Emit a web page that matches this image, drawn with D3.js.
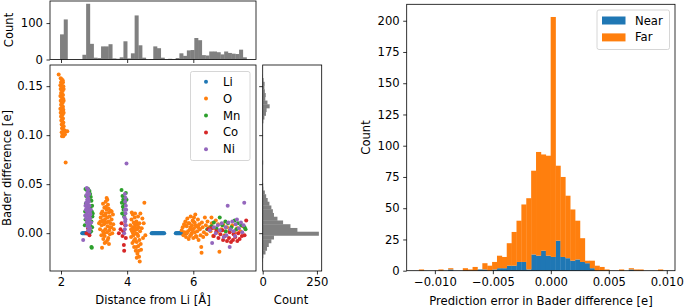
<!DOCTYPE html>
<html><head><meta charset="utf-8">
<script src="https://cdn.jsdelivr.net/npm/d3@7"></script>
<style>body{margin:0;background:#fff}svg{display:block}text{font-family:"DejaVu Sans",sans-serif;fill:#000}</style>
</head><body><svg id="c" width="685" height="307"></svg>
<script>
// ---------------- DATA ----------------
const elements = ["Li", "O", "Mn", "Co", "Ni"];
const elementColors = ["#1f77b4", "#ff7f0e", "#2ca02c", "#d62728", "#9467bd"];

// [distance from Li (Å), Bader difference (e)]
const LiPoints = [[2.64,0],[2.66,0],[2.68,0],[2.70,0],[2.72,0],[2.74,0],[2.76,0],[2.78,0],[2.80,0],[2.82,0],[2.84,0],[2.86,0],
[4.74,0],[4.76,0],[4.78,0],[4.80,0],[4.82,0],[4.84,0],[4.86,0],[4.88,0],[4.90,0],[4.92,0],[4.94,0],[4.96,0],[4.98,0],[5.00,0],[5.02,0],[5.04,0],[5.06,0],[5.08,0],[5.10,0],[5.12,0],
[5.47,0],[5.49,0],[5.51,0],[5.53,0],[5.55,0],[5.57,0],[5.59,0],[5.61,0],[5.63,0],[5.65,0],[5.67,0],[5.70,0],[5.73,0],[5.76,0],[5.79,0]];

const OPoints = [[1.93,0.162],[1.99,0.158],[2.02,0.157],[2.05,0.156],[2.00,0.154],[2.03,0.153],[2.06,0.154],[1.98,0.151],[2.01,0.150],[2.04,0.149],[2.07,0.150],[1.99,0.147],[2.02,0.146],[2.05,0.145],[2.08,0.147],[2.00,0.143],[2.03,0.142],[2.06,0.141],[1.98,0.140],[2.01,0.139],[2.04,0.138],[2.07,0.137],[1.99,0.135],[2.02,0.134],[2.05,0.133],[2.08,0.135],[2.00,0.131],[2.03,0.130],[2.06,0.129],[1.98,0.127],[2.01,0.126],[2.04,0.125],[2.07,0.126],[1.99,0.123],[2.02,0.122],[2.05,0.121],[2.08,0.123],[2.00,0.119],[2.03,0.118],[2.06,0.117],[2.01,0.115],[2.04,0.114],[2.07,0.113],[2.02,0.111],[2.05,0.110],[2.08,0.109],[2.03,0.107],[2.06,0.106],[2.10,0.105],[2.14,0.104],[2.19,0.104],[2.02,0.103],[2.05,0.101],[2.08,0.102],[2.03,0.099],[2.07,0.099],[2.12,0.101],[2.14,0.072],
[3.15,0.010],[3.18,0.004],[3.20,0.016],[3.22,-0.002],[3.23,0.008],[3.25,0.022],[3.26,0.013],[3.27,0.002],[3.28,-0.006],[3.29,0.018],[3.30,0.009],[3.31,0.026],[3.32,-0.003],[3.33,0.014],[3.34,0.004],[3.35,0.020],[3.36,-0.009],[3.37,0.011],[3.38,0.024],[3.39,0.001],[3.40,0.016],[3.41,0.007],[3.42,0.029],[3.43,-0.005],[3.44,0.012],[3.45,0.021],[3.46,0.003],[3.47,0.017],[3.48,-0.001],[3.49,0.010],[3.50,0.023],[3.52,0.006],[3.53,0.014],[3.55,0.000],[3.57,0.019],[3.58,0.009],[3.60,0.004],[3.27,0.030],[3.35,0.032],[3.38,0.036],[3.40,0.034],[3.24,-0.015],[3.32,-0.010],[3.45,-0.011],[3.22,0.020],[3.30,0.000],[3.36,0.027],[3.44,0.025],[3.48,0.006],[3.19,0.012],[3.41,-0.007],[3.53,0.022],[3.28,0.012],[3.34,0.018],
[4.10,0.008],[4.12,-0.004],[4.13,0.014],[4.15,0.002],[4.16,-0.010],[4.17,0.019],[4.18,0.006],[4.19,-0.002],[4.20,0.011],[4.21,-0.014],[4.22,0.003],[4.23,0.016],[4.24,-0.006],[4.25,0.008],[4.26,-0.018],[4.27,0.000],[4.28,0.012],[4.29,-0.009],[4.30,0.004],[4.31,-0.021],[4.32,0.009],[4.33,-0.003],[4.34,-0.013],[4.35,0.006],[4.36,-0.024],[4.37,-0.007],[4.38,-0.029],[4.39,0.002],[4.40,0.020],[4.41,-0.011],[4.42,-0.017],[4.44,0.005],[4.46,0.015],[4.48,-0.005],[4.50,0.010],[4.52,0.031],[4.55,-0.002],[4.14,0.021],[4.20,-0.008],[4.24,0.020],[4.28,-0.014],[4.33,0.017],[4.35,-0.018],[4.18,0.000],[4.26,0.005],[4.31,-0.001],[4.22,0.010],[4.37,0.010],[4.12,0.004],[4.29,-0.025],
[5.65,0.003],[5.68,0.006],[5.70,-0.002],[5.72,0.009],[5.74,0.001],[5.76,0.012],[5.78,-0.004],[5.80,0.007],[5.82,0.015],[5.84,0.002],[5.86,-0.006],[5.88,0.010],[5.90,0.004],[5.92,0.017],[5.94,-0.001],[5.96,0.008],[5.98,0.013],[6.00,-0.005],[6.02,0.005],[6.04,0.011],[6.06,0.019],[6.08,-0.003],[6.10,0.007],[6.12,0.002],[6.14,0.014],[6.16,-0.007],[6.18,0.009],[6.20,0.004],[6.22,-0.002],[6.24,-0.014],[6.25,-0.020],[6.26,0.011],[6.28,0.006],[6.30,-0.004],[6.32,0.001],[6.35,0.016],[6.38,0.008],[6.40,-0.001],[6.43,0.012],[5.85,0.010],[5.95,0.000],[6.05,0.001],[5.90,-0.003],[6.00,0.012],[6.10,-0.004],[5.80,0.000],[6.15,0.006],[5.75,0.008],[6.02,0.016],[5.92,0.006],[6.07,0.008],[5.97,0.003],
[6.48,0.006],[6.52,0.002],[6.56,0.010],[6.60,-0.003],[6.64,0.005],[6.68,0.013],[6.72,0.001],[6.79,-0.019],[6.85,0.004],[6.90,0.009],[6.95,-0.002],[7.02,0.006],[7.10,0.003],[7.18,0.008],[7.25,0.001],[7.33,0.005],[7.42,0.002],[7.50,0.007],[6.55,0.016],[6.75,0.009]];

const MnPoints = [[2.74,0.045],[2.78,0.044],[2.82,0.045],[2.86,0.043],[2.88,0.040],[2.90,0.037],[2.92,0.033],[2.94,0.028],[2.93,0.022],[2.95,0.017],[2.92,0.012],[2.94,0.006],[2.91,0.002],[2.76,0.038],[2.75,0.030],[2.73,0.022],[2.74,0.014],[2.72,0.008],[2.89,0.026],[2.96,0.020],[2.92,-0.014],[2.93,-0.015],[2.90,0.018],[2.88,0.008],
[3.83,0.044],[3.86,0.038],[3.88,0.034],[3.84,0.031],[3.90,0.032],[3.87,0.027],[3.92,0.030],[3.89,0.024],[3.85,0.020],[3.94,0.036],[3.91,0.017],[3.96,0.041],[3.98,0.034],
[6.42,0.004],[6.55,0.007],[6.62,0.011],[6.70,0.005],[6.80,0.016],[6.88,0.008],[6.97,0.012],[7.05,0.010],[7.15,0.006],[7.25,0.013],[7.35,0.010],[7.45,0.008],[7.55,0.006],[7.58,0.004],[6.98,0.002],[7.30,0.004]];

const CoPoints = [[2.77,0.000],[2.82,0.005],[2.86,-0.002],[2.80,0.012],
[3.75,0.000],[3.80,0.004],[3.86,-0.003],[3.90,-0.012],[3.91,-0.018],[3.88,0.002],[3.94,0.008],[3.96,-0.005],[3.83,0.010],
[6.45,0.004],[6.62,-0.003],[6.70,0.002],[6.76,-0.005],[6.82,-0.001],[6.90,-0.007],[6.96,-0.003],[7.02,-0.008],[7.08,-0.005],[7.14,-0.009],[7.20,-0.007],[7.27,-0.004],[7.33,-0.008],[7.40,-0.006],[7.47,-0.003],[7.55,-0.002],[7.60,0.013],[6.88,0.003],[7.10,0.001],[7.36,0.000],[6.55,0.005],[7.22,-0.001]];

const NiPoints = [[2.78,0.046],[2.80,0.042],[2.77,0.039],[2.81,0.037],[2.79,0.034],[2.83,0.035],[2.76,0.031],[2.80,0.030],[2.84,0.032],[2.78,0.027],[2.82,0.026],[2.86,0.028],[2.75,0.024],[2.79,0.022],[2.83,0.023],[2.87,0.021],[2.77,0.019],[2.81,0.018],[2.85,0.017],[2.89,0.019],[2.76,0.015],[2.80,0.014],[2.84,0.013],[2.88,0.015],[2.78,0.011],[2.82,0.010],[2.86,0.009],[2.80,0.007],[2.84,0.006],[2.88,0.005],[2.82,0.003],[2.86,0.002],[2.74,0.028],[2.73,0.018],[2.90,0.024],[2.91,0.011],[2.67,-0.007],[2.85,0.040],[2.83,0.044],
[3.93,0.040],[3.95,0.036],[3.94,0.032],[3.96,0.028],[3.93,0.024],[3.95,0.020],[3.92,0.016],[3.94,0.012],[3.96,0.008],[3.93,0.004],[3.95,0.014],[3.97,0.024],[3.98,0.071],[3.91,0.000],
[6.50,0.003],[6.57,-0.010],[6.62,0.006],[6.68,0.000],[6.74,0.008],[6.80,0.003],[6.86,0.010],[6.92,-0.004],[6.98,0.006],[7.04,0.028],[7.06,0.011],[7.10,-0.014],[7.12,0.004],[7.18,0.012],[7.22,0.002],[7.28,0.009],[7.32,0.014],[7.38,0.005],[7.44,0.011],[7.48,0.001],[7.54,0.031],[7.52,0.008],[7.00,-0.002],[7.26,-0.003]];

// distance histogram (top marginal)
const distBinStart = 1.97, distBinWidth = 0.1128;
const distCounts = [69,110,0,0,0,0,13,153,43,5,4,36,36,42,3,2,6,50,3,17,121,39,5,0,1,36,31,5,1,2,1,4,17,10,25,26,59,53,12,11,22,22,20,14,22,18,16,15,27,6];

// Bader difference histogram (right marginal)
const baderBinStart = -0.0291, baderBinWidth = 0.003824;
const baderCounts = [1,3,13,20,28,40,52,259,160,128,94,68,52,47,40,31,23,16,10,3,2,0,0,0,0,0,2,0,0,0,0,0,0,0,0,0,0,3,8,15,18,32,22,12,14,10,8,9,4,1];

// prediction error histogram (stacked)
const errBinStart = -0.01138, errBinWidth = 0.000421;
const nearCounts = [0,0,0,0,0,0,1,0,0,0,0,0,1,1,0,1,2,2,4,4,7,7,1,13,12,16,12,11,24,11,10,8,9,7,6,2,0,0,0,0,0,0,0,1,0,0,0,0,0,0];
const farCounts  = [1,0,0,0,1,0,1,0,0,2,1,3,0,5,4,6,10,9,18,27,33,46,57,67,83,77,80,192,60,64,50,41,31,19,2,6,4,3,1,0,0,1,0,1,1,1,0,0,0,1];
const errSeries = ["Near", "Far"];
const errColors = ["#1f77b4", "#ff7f0e"];

const distTicks = [2, 4, 6];
const baderTicks = [0.00, 0.05, 0.10, 0.15];
const topCountTicks = [0, 100];
const rightCountTicks = [0, 250];
const errTicks = [-0.010, -0.005, 0.000, 0.005, 0.010];
const errCountTicks = [0, 25, 50, 75, 100, 125, 150, 175, 200];

// ---------------- DRAW ----------------
const svg = d3.select("#c");
const FS = 11.6;
const gray = "#808080";
const R = 2.0;

const xD = d3.scaleLinear().domain([1.667, 7.896]).range([50, 256]);
const yB = d3.scaleLinear().domain([-0.0386, 0.1716]).range([271, 65]);
const yTop = d3.scaleLinear().domain([0, 160.6]).range([59.5, 1]);
const xRight = d3.scaleLinear().domain([0, 272]).range([262.7, 321.7]);
const xE = d3.scaleLinear().domain([-0.01243, 0.01071]).range([406.7, 675]);
const yE = d3.scaleLinear().domain([0, 213.15]).range([270.7, 4.3]);

function styleAxis(g) {
  g.select(".domain").remove();
  g.selectAll(".tick line").attr("stroke", "#000").attr("stroke-width", 0.8);
  g.selectAll(".tick text").attr("font-size", FS).attr("font-family", "DejaVu Sans").attr("fill", "#000");
}
function frame(x0, x1, y0, y1) {
  svg.append("rect").attr("x", x0).attr("y", y0).attr("width", x1 - x0).attr("height", y1 - y0)
    .attr("fill", "none").attr("stroke", "#000").attr("stroke-width", 0.8);
}

// Top histogram
svg.append("g").selectAll("rect").data(distCounts).join("rect")
  .attr("x", (c, i) => xD(distBinStart + i * distBinWidth))
  .attr("width", (c, i) => xD(distBinStart + (i + 1) * distBinWidth) - xD(distBinStart + i * distBinWidth) + 0.3)
  .attr("y", c => yTop(c)).attr("height", c => yTop(0) - yTop(c)).attr("fill", gray);
frame(50, 256, 1, 59.5);
svg.append("g").attr("transform", "translate(0,59.5)")
  .call(d3.axisBottom(xD).tickValues(distTicks).tickSize(3.5).tickFormat(""))
  .call(styleAxis);
svg.append("g").attr("transform", "translate(50,0)")
  .call(d3.axisLeft(yTop).tickValues(topCountTicks).tickSize(3.5).tickPadding(3.5).tickFormat(d3.format("d")))
  .call(styleAxis);
svg.append("text").attr("transform", "translate(9,30) rotate(-90)").attr("text-anchor", "middle")
  .attr("dominant-baseline", "central").attr("font-size", FS).text("Count");

// Main scatter
const allPts = [LiPoints, OPoints, MnPoints, CoPoints, NiPoints];
allPts.forEach((pts, k) => {
  svg.append("g").selectAll("circle").data(pts).join("circle")
    .attr("cx", p => xD(p[0])).attr("cy", p => yB(p[1])).attr("r", R)
    .attr("fill", elementColors[k]);
});
frame(50, 256, 65, 271);
svg.append("g").attr("transform", "translate(0,271)")
  .call(d3.axisBottom(xD).tickValues(distTicks).tickSize(3.5).tickPadding(3.5).tickFormat(d3.format("d")))
  .call(styleAxis);
svg.append("g").attr("transform", "translate(50,0)")
  .call(d3.axisLeft(yB).tickValues(baderTicks).tickSize(3.5).tickPadding(3.5).tickFormat(d3.format(".2f")))
  .call(styleAxis);
svg.append("text").attr("transform", "translate(7,168) rotate(-90)").attr("text-anchor", "middle")
  .attr("dominant-baseline", "central").attr("font-size", FS).text("Bader difference [e]");
svg.append("text").attr("x", 153).attr("y", 304).attr("text-anchor", "middle")
  .attr("font-size", FS).text("Distance from Li [Å]");

// legend (scatter)
const lg = svg.append("g");
lg.append("rect").attr("x", 190.5).attr("y", 71.5).attr("width", 59.5).attr("height", 89).attr("rx", 2)
  .attr("fill", "#fff").attr("fill-opacity", 0.8).attr("stroke", "#cccccc").attr("stroke-width", 0.8);
elements.forEach((e, i) => {
  const cy = 81.7 + i * 16.9;
  lg.append("circle").attr("cx", 206).attr("cy", cy).attr("r", R).attr("fill", elementColors[i]);
  lg.append("text").attr("x", 223).attr("y", cy).attr("dominant-baseline", "central")
    .attr("font-size", FS).text(e);
});

// Right marginal histogram
svg.append("g").selectAll("rect").data(baderCounts).join("rect")
  .attr("y", (c, i) => yB(baderBinStart + (i + 1) * baderBinWidth))
  .attr("height", (c, i) => yB(baderBinStart + i * baderBinWidth) - yB(baderBinStart + (i + 1) * baderBinWidth) + 0.3)
  .attr("x", xRight(0)).attr("width", c => xRight(c) - xRight(0)).attr("fill", gray);
frame(262.7, 321.7, 65, 271);
svg.append("g").attr("transform", "translate(0,271)")
  .call(d3.axisBottom(xRight).tickValues(rightCountTicks).tickSize(3.5).tickPadding(3.5).tickFormat(d3.format("d")))
  .call(styleAxis);
svg.append("g").attr("transform", "translate(262.7,0)")
  .call(d3.axisLeft(yB).tickValues(baderTicks).tickSize(3.5).tickFormat(""))
  .call(styleAxis);
svg.append("text").attr("x", 291).attr("y", 304).attr("text-anchor", "middle")
  .attr("font-size", FS).text("Count");

// Right chart: stacked histogram
const stackData = nearCounts.map((n, i) => ({ i, Near: n, Far: farCounts[i] }));
const stacked = d3.stack().keys(errSeries)(stackData);
stacked.forEach((layer, k) => {
  svg.append("g").selectAll("rect").data(layer).join("rect")
    .attr("x", d => xE(errBinStart + d.data.i * errBinWidth))
    .attr("width", d => xE(errBinStart + (d.data.i + 1) * errBinWidth) - xE(errBinStart + d.data.i * errBinWidth) + 0.3)
    .attr("y", d => yE(d[1])).attr("height", d => yE(d[0]) - yE(d[1]))
    .attr("fill", errColors[k]);
});
frame(406.7, 675, 4.3, 270.7);
svg.append("g").attr("transform", "translate(0,270.7)")
  .call(d3.axisBottom(xE).tickValues(errTicks).tickSize(3.5).tickPadding(3.5).tickFormat(d3.format(".3f")))
  .call(styleAxis);
svg.append("g").attr("transform", "translate(406.7,0)")
  .call(d3.axisLeft(yE).tickValues(errCountTicks).tickSize(3.5).tickPadding(3.5).tickFormat(d3.format("d")))
  .call(styleAxis);
svg.append("text").attr("transform", "translate(366,137.5) rotate(-90)").attr("text-anchor", "middle")
  .attr("dominant-baseline", "central").attr("font-size", FS).text("Count");
svg.append("text").attr("x", 541).attr("y", 305).attr("text-anchor", "middle")
  .attr("font-size", FS).text("Prediction error in Bader difference [e]");

// legend (right)
const lg2 = svg.append("g");
lg2.append("rect").attr("x", 597).attr("y", 10).attr("width", 72.5).attr("height", 39.5).attr("rx", 2)
  .attr("fill", "#fff").attr("fill-opacity", 0.8).attr("stroke", "#cccccc").attr("stroke-width", 0.8);
errSeries.forEach((s, i) => {
  const cy = 20.5 + i * 16.9;
  lg2.append("rect").attr("x", 602).attr("y", cy - 4).attr("width", 23.5).attr("height", 8).attr("fill", errColors[i]);
  lg2.append("text").attr("x", 635).attr("y", cy).attr("dominant-baseline", "central")
    .attr("font-size", FS).text(s);
});
</script></body></html>
